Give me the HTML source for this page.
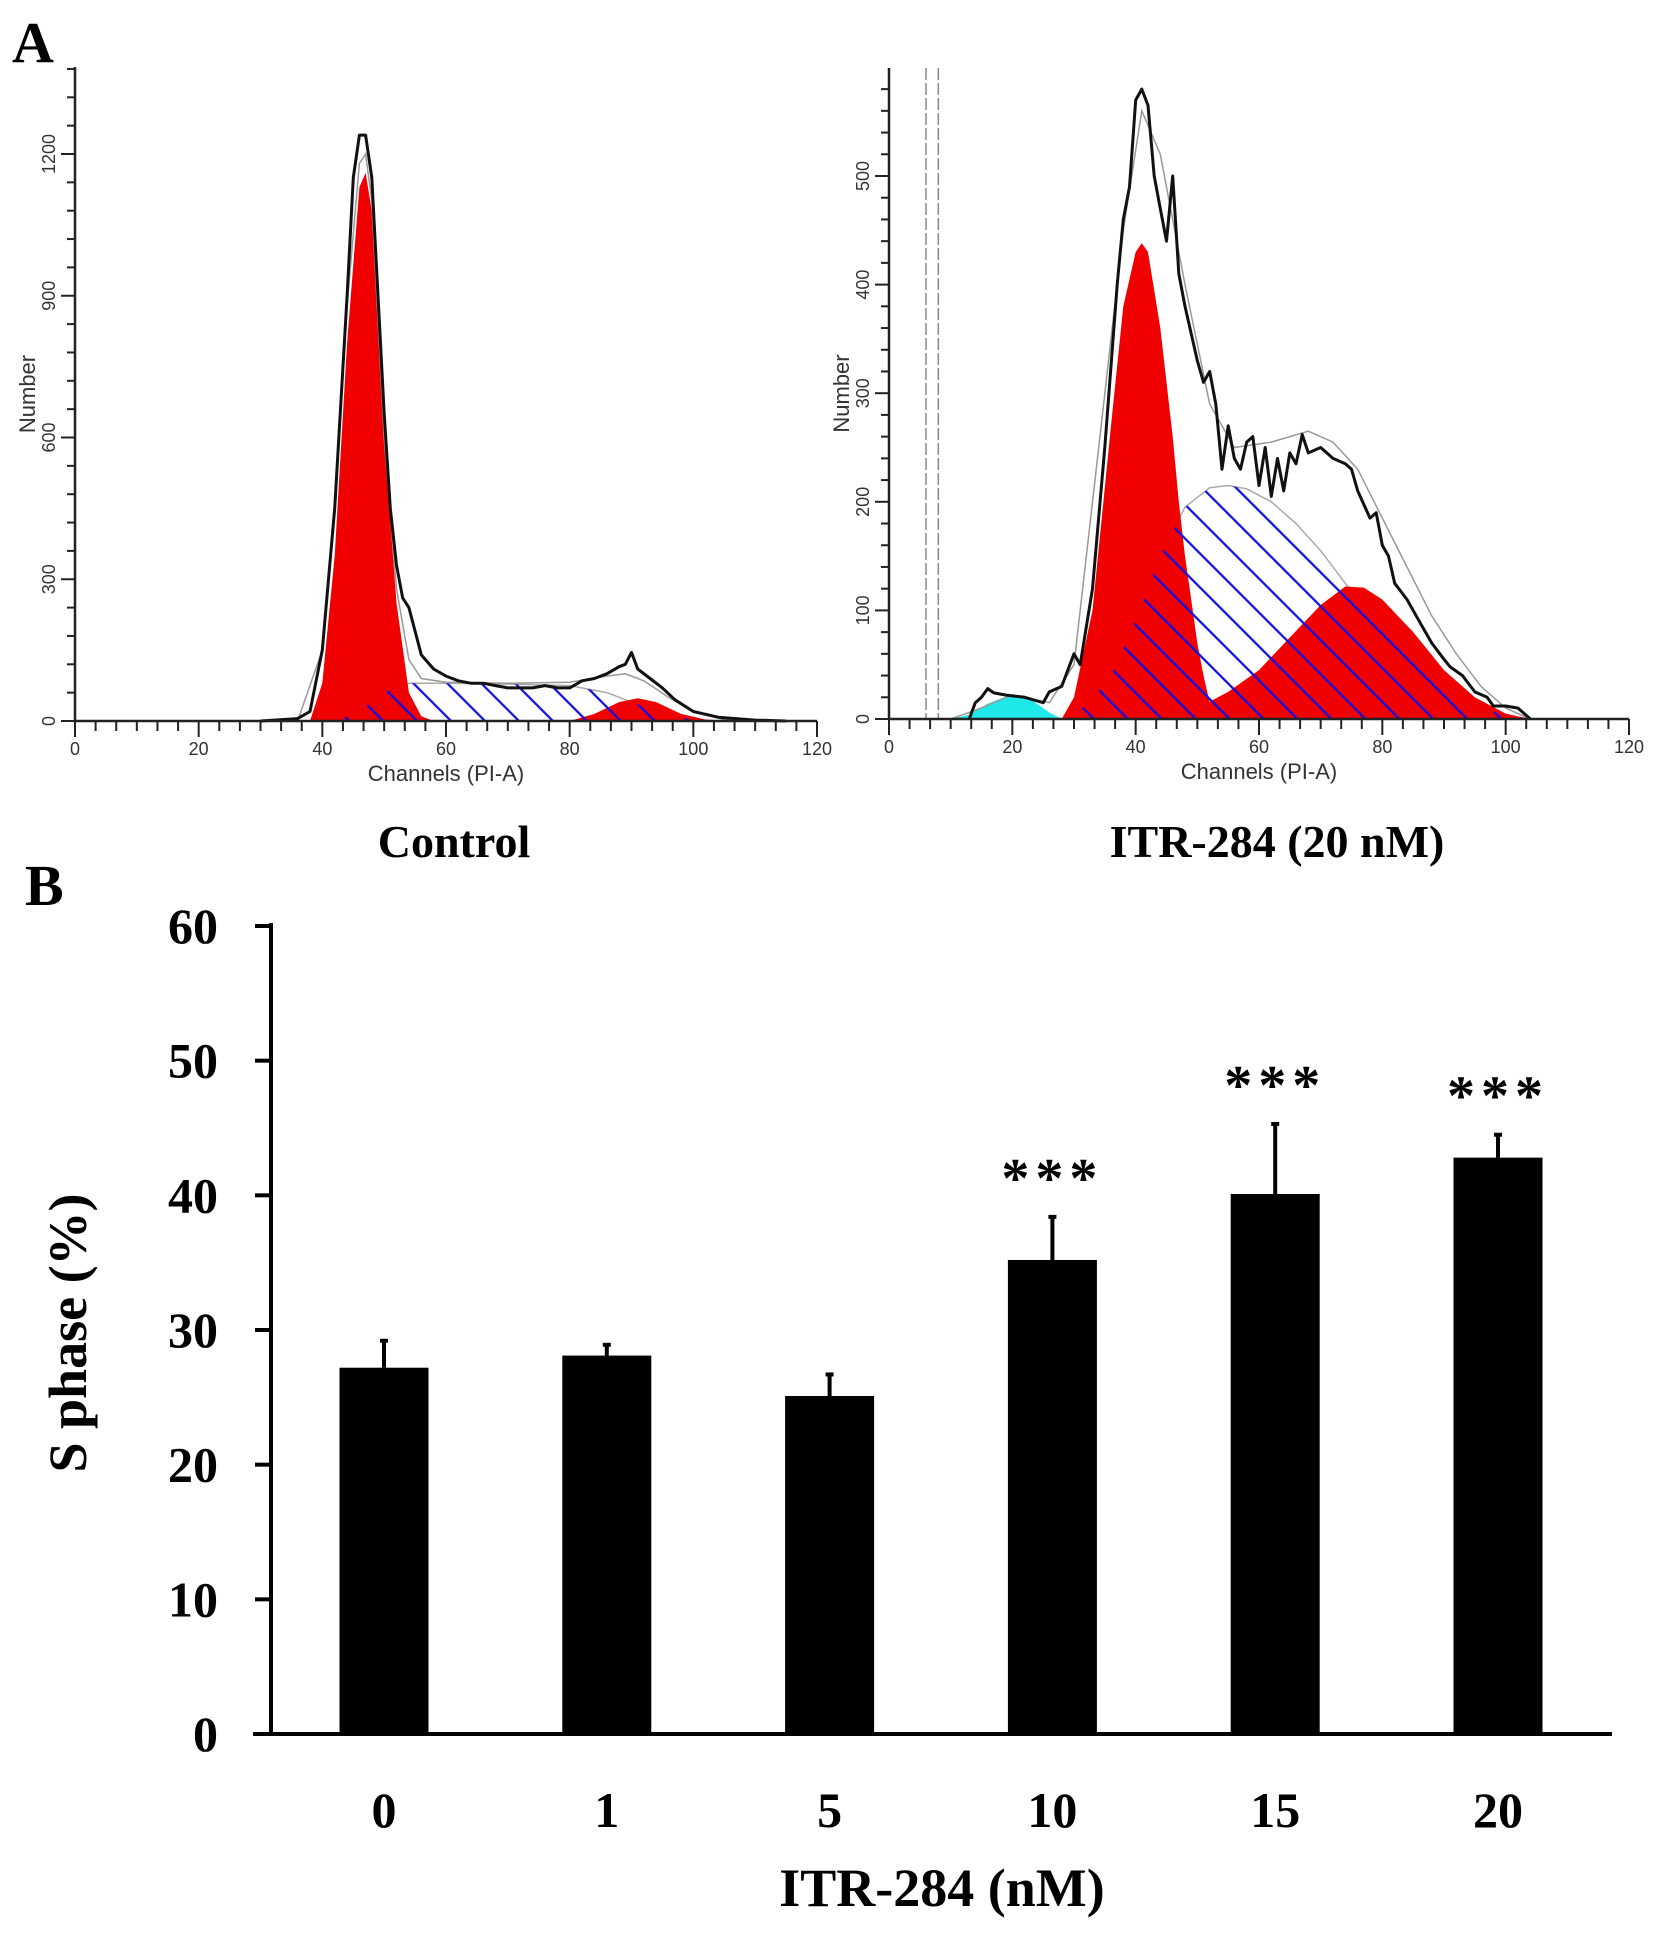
<!DOCTYPE html>
<html><head><meta charset="utf-8"><style>
html,body{margin:0;padding:0;background:#fff}
svg{display:block}
</style></head><body>
<svg id="fig" width="1654" height="1935" viewBox="0 0 1654 1935" xmlns="http://www.w3.org/2000/svg">
<defs>
<pattern id="hatch" patternUnits="userSpaceOnUse" width="24" height="24" patternTransform="rotate(-45)">
<line x1="0" y1="0" x2="0" y2="24" stroke="#1010e0" stroke-width="4.5"/>
</pattern>
</defs>
<text x="12" y="62" font-family="Liberation Serif, serif" font-weight="bold" font-size="58">A</text>
<text x="25" y="905" font-family="Liberation Serif, serif" font-weight="bold" font-size="58">B</text>
<g id="histL"></g>
<g id="histR"></g>
<text x="454" y="857" text-anchor="middle" font-family="Liberation Serif, serif" font-weight="bold" font-size="46">Control</text>
<text x="1277" y="857" text-anchor="middle" font-family="Liberation Serif, serif" font-weight="bold" font-size="46">ITR-284 (20 nM)</text>
<g id="bars"></g>
</svg>
<script>
// ---------- Histogram data ----------
const ctrlBlack=[[30,0],[36,5],[38,20],[40,150],[42,450],[44,900],[45,1150],[46,1240],[47,1240],[48,1150],[49,900],[50,650],[51,450],[52,330],[53,260],[54,240],[55,190],[56,140],[58,110],[60,95],[62,85],[64,80],[66,80],[68,75],[70,70],[72,70],[74,70],[76,75],[78,70],[80,70],[82,85],[84,90],[86,100],[88,115],[89,120],[90,145],[91,110],[93,90],[95,70],[97,45],[100,20],[104,8],[110,2],[115,0]];
const ctrlFit=[[36,0],[40,150],[42,450],[44,880],[46,1180],[47,1200],[48,1100],[50,600],[52,280],[54,130],[56,90],[60,82],[70,80],[80,82],[86,95],[89,100],[92,85],[96,50],[100,20],[105,3],[110,0]];
const ctrlG1=[[38,0],[40,80],[42,350],[44,800],[46,1130],[47,1160],[48,1080],[50,600],[52,250],[54,60],[56,10],[58,0]];
const ctrlS=[[42,0],[46,20],[50,60],[54,80],[60,80],[70,78],[80,75],[86,60],[90,40],[95,15],[100,3],[104,0]];
const ctrlG2=[[80,0],[84,15],[88,40],[91,48],[94,40],[98,15],[102,3],[106,0]];
const ctrlYTicks=[0,300,600,900,1200];

const itrBlack=[[13,0],[14,15],[15,20],[16,28],[17,24],[19,22],[22,20],[25,15],[26,25],[28,30],[30,60],[31,50],[33,120],[35,250],[37,400],[38,460],[39,490],[40,570],[41,580],[42,565],[43,500],[44,470],[45,440],[46,500],[47,410],[48,380],[50,330],[51,310],[52,320],[53,290],[54,230],[55,270],[56,240],[57,230],[58,255],[59,260],[60,215],[61,250],[62,205],[63,240],[64,210],[65,245],[66,235],[67,262],[68,245],[70,250],[72,240],[74,235],[75,230],[76,210],[78,185],[79,190],[80,160],[81,150],[82,125],[84,110],[86,90],[88,70],[90,55],[91,48],[93,40],[95,25],[97,20],[98,12],[100,12],[102,10],[104,0]];
const itrFit=[[10,0],[14,8],[20,22],[26,15],[30,50],[34,250],[38,450],[41,560],[44,520],[48,400],[52,290],[56,250],[62,255],[68,265],[72,255],[76,230],[80,185],[84,140],[88,95],[92,60],[96,30],[100,10],[104,0]];
const itrCyan=[[10,0],[13,4],[16,14],[20,23],[23,18],[26,6],[28,0]];
const itrG1=[[28,0],[30,20],[33,100],[36,270],[38,380],[40,430],[41,438],[42,430],[44,360],[46,260],[47,200],[48,150],[49,110],[50,70],[51,40],[52,15],[53,5],[55,0]];
const itrS=[[28,0],[32,12],[36,40],[40,90],[44,150],[48,195],[52,213],[55,215],[58,212],[62,200],[66,180],[70,155],[74,125],[78,98],[82,72],[86,48],[90,28],[95,12],[100,3],[104,0]];
const itrG2=[[40,0],[45,5],[50,10],[55,25],[60,45],[65,75],[70,105],[74,122],[77,121],[80,110],[85,80],[90,45],[95,20],[100,5],[104,0]];
const itrYTicks=[0,100,200,300,400,500];
const xTicks=[0,20,40,60,80,100,120];

const NS='http://www.w3.org/2000/svg';
function mk(parent,tag,attrs){const e=document.createElementNS(NS,tag);for(const k in attrs)e.setAttribute(k,attrs[k]);parent.appendChild(e);return e;}

function drawHist(gid,P,d){
  const g=document.getElementById(gid);
  const sx=c=>P.x0+(c/120)*(P.x1-P.x0);
  const sy=v=>P.y0-(v/P.ymax)*(P.y0-P.yTop);
  const pts=a=>a.map(p=>sx(p[0]).toFixed(1)+','+sy(p[1]).toFixed(1)).join(' ');
  if(d.cyan){const e=mk(g,'polygon',{points:pts(d.cyan),fill:'#1ee8e8'});
    }
  let e=mk(g,'polygon',{points:pts(d.S),fill:'#fff',stroke:'#aaa','stroke-width':1.5});
  
  e=mk(g,'polygon',{points:pts(d.G1),fill:'#f00000'});
  
  e=mk(g,'polygon',{points:pts(d.G2),fill:'#f00000'});
  
  e=mk(g,'polygon',{points:pts(d.S),fill:'url(#hatch)'});
  
  e=mk(g,'polyline',{points:pts(d.fit),fill:'none',stroke:'#999','stroke-width':1.5});
  
  e=mk(g,'polyline',{points:pts(d.black),fill:'none',stroke:'#111','stroke-width':3,'stroke-linejoin':'round'});
  
  if(d.vlines){d.vlines.forEach(c=>{const l=mk(g,'line',{x1:sx(c),x2:sx(c),y1:P.yTop,y2:P.y0,stroke:'#888','stroke-width':1.5,'stroke-dasharray':'12 3'});
    });}
  e=mk(g,'line',{x1:P.x0,x2:P.x1,y1:P.y0,y2:P.y0,stroke:'#222','stroke-width':2.5});
  
  e=mk(g,'line',{x1:P.x0,x2:P.x0,y1:P.yTop,y2:P.y0,stroke:'#222','stroke-width':2.5});
  
  for(let c=0;c<=120.01;c+=20/6){const major=Math.abs(c/20-Math.round(c/20))<0.01;
    mk(g,'line',{x1:sx(c),x2:sx(c),y1:P.y0,y2:P.y0+(major?16:10),stroke:'#222','stroke-width':2});}
  xTicks.forEach(t=>{const tx=mk(g,'text',{x:sx(t),y:P.y0+34,'text-anchor':'middle','font-family':'Liberation Sans, sans-serif','font-size':18,fill:'#333'});tx.textContent=t;
    });
  for(let v=0;v<=P.ymax+0.1;v+=P.minor){const major=d.yt.some(t=>Math.abs(t-v)<0.01);
    mk(g,'line',{x1:P.x0,x2:P.x0-(major?14:8),y1:sy(v),y2:sy(v),stroke:'#222','stroke-width':2});}
  d.yt.forEach(t=>{const tx=mk(g,'text',{x:P.x0-20,y:sy(t),'text-anchor':'middle','font-family':'Liberation Sans, sans-serif','font-size':18,fill:'#333',transform:`rotate(-90 ${P.x0-20} ${sy(t)})`});tx.textContent=t;
    });
  let t=mk(g,'text',{x:(sx(0)+sx(120))/2,y:P.y0+60,'text-anchor':'middle','font-family':'Liberation Sans, sans-serif','font-size':22,fill:'#333'});t.textContent='Channels (PI-A)';
  
  const ym=(P.y0+P.yTop)/2;
  t=mk(g,'text',{x:P.x0-40,y:ym,'text-anchor':'middle','font-family':'Liberation Sans, sans-serif','font-size':22,fill:'#333',transform:`rotate(-90 ${P.x0-40} ${ym})`});t.textContent='Number';
  
}
drawHist('histL',{x0:75,x1:817,y0:721,yTop:67,ymax:1200*(721-67)/(721-154),minor:60},{black:ctrlBlack,fit:ctrlFit,G1:ctrlG1,S:ctrlS,G2:ctrlG2,yt:ctrlYTicks});
drawHist('histR',{x0:889,x1:1629,y0:719,yTop:68,ymax:(719-68)/1.086,minor:20},{black:itrBlack,fit:itrFit,G1:itrG1,S:itrS,G2:itrG2,cyan:itrCyan,yt:itrYTicks,vlines:[6,8]});

// ---------- Bar chart data ----------
const categories=['0','1','5','10','15','20'];
const values=[27.2,28.1,25.1,35.2,40.1,42.8];
const errors=[2.0,0.8,1.6,3.2,5.2,1.7];
const sig=['','','','***','***','***'];
const barTicks=[0,10,20,30,40,50,60];
(function(){
  const g=document.getElementById('bars');
  const X0=271,X1=1612,Y0=1734,Ytop=926,ymax=60;
  const sy=v=>Y0-(v/ymax)*(Y0-Ytop);
  const step=222.8,first=384,bw=89;
  const sx=i=>first+i*step;
  const serif='Liberation Serif, serif';
  values.forEach((v,i)=>{
    const cx=sx(i);
    const r=mk(g,'rect',{x:cx-bw/2,y:sy(v),width:bw,height:Y0-sy(v),fill:'#000'});
    
    const l=mk(g,'line',{x1:cx,x2:cx,y1:sy(v),y2:sy(v+errors[i]),stroke:'#000','stroke-width':4});
    
    mk(g,'line',{x1:cx-4,x2:cx+4,y1:sy(v+errors[i]),y2:sy(v+errors[i]),stroke:'#000','stroke-width':4});
    const t=mk(g,'text',{x:cx,y:1827,'text-anchor':'middle','font-family':serif,'font-weight':'bold','font-size':50});t.textContent=categories[i];
    
    if(sig[i]){const s=mk(g,'text',{x:cx,y:sy(v+errors[i])-20,'text-anchor':'middle','font-family':serif,'font-weight':'bold','font-size':56,'letter-spacing':'6'});s.textContent=sig[i];
      }
  });
  let e=mk(g,'line',{x1:X0,x2:X0,y1:Ytop-3,y2:Y0,stroke:'#000','stroke-width':4});
  
  e=mk(g,'line',{x1:253,x2:X1,y1:Y0,y2:Y0,stroke:'#000','stroke-width':4});
  
  barTicks.forEach(t=>{
    mk(g,'line',{x1:X0-16,x2:X0,y1:sy(t),y2:sy(t),stroke:'#000','stroke-width':4});
    const tx=mk(g,'text',{x:218,y:sy(t)+17,'text-anchor':'end','font-family':serif,'font-weight':'bold','font-size':50});tx.textContent=t;
    
  });
  let t=mk(g,'text',{x:942,y:1906,'text-anchor':'middle','font-family':serif,'font-weight':'bold','font-size':54});t.textContent='ITR-284 (nM)';
  
  t=mk(g,'text',{x:86,y:1333,'text-anchor':'middle','font-family':serif,'font-weight':'bold','font-size':54,transform:'rotate(-90 86 1333)'});t.textContent='S phase (%)';
  
})();
</script>
</body></html>
